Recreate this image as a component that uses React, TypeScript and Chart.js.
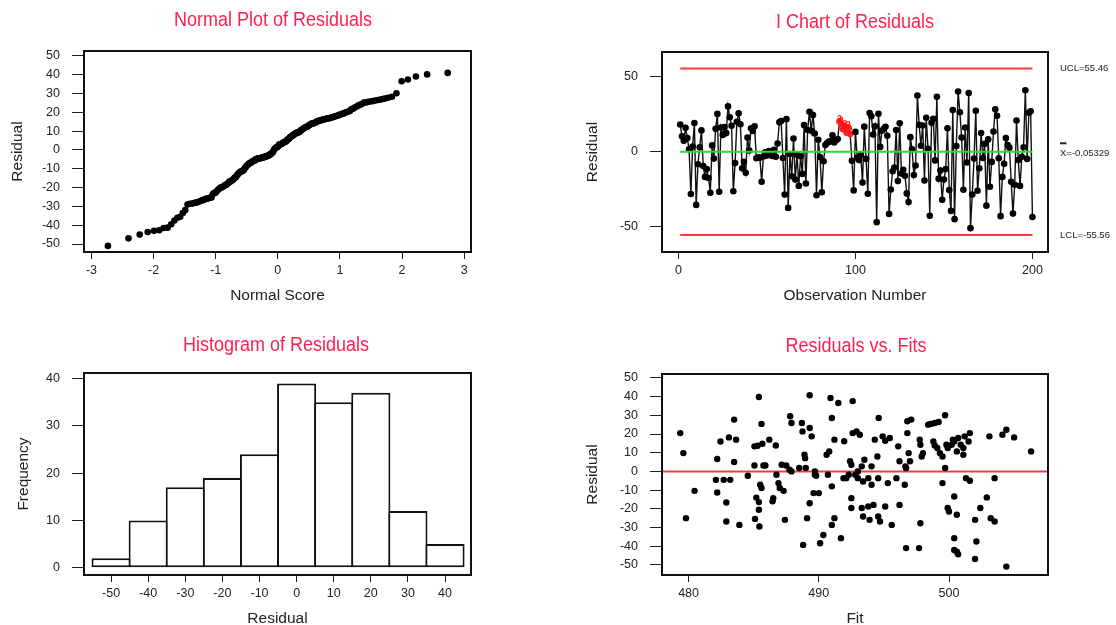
import React, { useEffect, useRef } from "react";
import { Chart, registerables } from "chart.js";
Chart.register(...registerables);

// ------------------------------------------------------------------ data
// Residuals in observation order
const residuals: number[] = [
  18.1, 10.3, 7.3, 15.9, 9.1, 1.6, -28.2, 3.4, 19.1, -35.5,
  -8.4, 3.0, 14.2, -9.6, -16.8, -11.6, -17.6, -27.4, 4.2, -4.6,
  15.3, 25.2, -26.7, 16.1, 11.2, 16.5, 12.4, 30.2, 23.0, 17.3,
  -26.4, -7.6, 19.9, 25.6, 18.3, -11.0, -6.8, -14.0, 9.4, 0.8,
  15.6, 13.8, 16.9, -4.4, -3.8, -4.0, -20.0, -3.2, -0.4, -2.6,
  0.4, -1.2, -2.8, 1.2, -3.4, 5.5, 19.6, 20.5, -4.2, -28.6,
  21.7, -37.5, -1.6, -16.4, 8.8, -18.6, -2.0, -22.8, -3.0, -14.8,
  17.7, -21.2, 14.5, 26.6, 14.0, 24.4, 12.1, -29.0, 7.9, -3.6,
  -27.0, -6.4, 4.5, 5.8, 6.7, 7.0, 10.9, 6.1, 7.6, 8.5,
  20.2, 18.5, 15.0, 17.1, 12.7, 16.3, 11.8, -6.0, -25.8, 13.2,
  -4.0, -5.6, -2.2, -20.6, 16.7, -4.8, -28.0, 25.8, 23.6, 11.5,
  16.9, -47.0, 25.3, 3.2, 14.0, 15.3, 16.6, 10.6, -41.5, -25.2,
  -13.0, -10.6, 14.4, -19.6, 18.9, -14.6, -12.0, -16.0, -27.8, -33.5,
  9.7, 1.6, -15.6, -9.2, 37.5, 17.9, 4.0, 17.5, -19.2, 22.6,
  2.0, -42.7, 19.3, 22.0, -5.8, 36.6, -18.0, -12.6, -32.0, -18.6,
  -11.6, 15.6, -25.6, -39.5, 27.8, -45.0, 3.8, 40.2, 26.3, 9.4,
  -25.4, 16.1, -7.2, 39.1, -51.0, -28.6, -4.6, 27.3, -26.0, -11.0,
  12.4, -4.2, 5.2, -36.0, 8.2, -23.4, -6.8, 13.4, 28.3, 24.0,
  -4.4, -43.0, -16.8, -8.0, 9.1, 4.4, 2.7, -20.0, -41.3, -22.0,
  20.8, -5.6, -22.8, -3.4, 3.0, 41.0, -4.8, 26.0, 26.9, -43.6,
];

// I chart control limits and labels
const UCL = 55.46;
const CENTER = -0.05329;
const LCL = -55.56;
const controlLabels = ["UCL=55.46", "X=-0.05329", "LCL=-55.56"];
// observations failing test 2 (9 points in a row on one side)
const flaggedObs = [91, 92, 93, 94, 95, 96, 97];
const flagText = "2";

// Histogram bins
const histCenters = [-50, -40, -30, -20, -10, 0, 10, 20, 30, 40];
const histCounts = [2, 10, 17, 19, 24, 39, 35, 37, 12, 5];

// Residuals vs fits: [fit, residual]
const fitVsResidual: [number, number][] = [
  [479.36, 20.5], [479.6, 9.8], [479.8, -25], [480.46, -10.4], [482.2, 6.6], [482.1, -4.5],
  [482.2, -11.3], [482.45, 16], [482.7, -4.5], [482.9, -26.8], [482.9, -16.6], [483.1, 18.2],
  [483.2, -4.5], [483.5, 27.7], [483.5, 5], [483.65, 17], [483.9, -28.6], [484.55, -2.3],
  [485.06, 13.4], [485.06, 3.2], [485.1, -25.4], [485.2, -14], [485.3, 13.75], [485.4, 39.8],
  [485.4, -16.4], [485.4, -20.5], [485.44, -29.5], [485.5, -7.1], [485.6, -8.9], [485.6, 25.4],
  [485.67, 14.8], [485.75, 3.2], [485.9, 3.2], [486.2, 17], [486.45, -16], [486.5, -14.3],
  [486.7, 13.9], [486.75, -1.8], [486.9, -6.25], [487.0, -8.9], [487.3, -10.4], [487.4, -25.9],
  [487.15, 3.6], [487.5, 3.2], [487.8, 29.5], [487.9, 25.9], [487.75, 0.9], [487.9, 0],
  [488.5, 1.8], [488.7, 25.9], [488.75, 21.4], [488.8, -39.3], [488.9, 8.9], [488.95, 7.1],
  [489.0, 1.8], [489.1, -25], [489.3, 23.2], [489.3, 40.7], [489.45, 18.75], [489.3, -17],
  [489.6, -11.6], [489.7, -1.8], [489.8, -2.3], [489.7, 0], [490.0, -11.6], [490.1, -38.4],
  [490.35, -34], [490.6, 8.9], [490.7, -1.8], [490.8, 10.7], [490.9, 39.3], [491.0, 28.6],
  [491.0, -8], [491.0, -28.6], [491.2, -25], [491.2, 17], [491.5, 36.6], [491.7, -35.7],
  [491.95, 16.1], [491.9, -3.6], [492.1, -3.6], [492.3, -1.8], [492.5, 3.6], [492.5, -14.3],
  [492.5, -19.6], [492.6, 20.5], [492.4, 5.4], [492.8, -1.8], [492.9, 21.4], [493.0, 0],
  [492.6, 37.6],
  [493.15, 19.6], [493.3, 2.7], [493.0, -3.6], [493.4, -5.4], [493.5, 6.25], [493.8, -3.6],
  [494.05, 2.7], [494.05, -7.1], [494.5, 8], [494.56, -3.6], [494.6, 28.6], [494.3, 17],
  [494.9, 18.75], [495.1, 16.4], [495.3, -6.25], [495.45, 17.9], [495.96, -3.6], [496.6, -7.1],
  [493.3, -19.6], [493.4, -24.1], [493.8, -18.75], [493.9, -25.9], [494.2, -17.9], [494.56, -24.1],
  [494.7, -26.8], [495.1, -18.75], [495.6, -28.6], [496.2, -17.9], [496.7, -41], [497.7, -41],
  [497.8, -27.7], [496.1, 13.4], [496.8, 20.5], [496.8, 26.8], [497.1, 27.7], [496.9, 9.8],
  [497.0, 5.4], [496.2, 5.4], [496.65, 2.7], [496.7, 1.8], [497.75, 17], [497.8, 14.3],
  [497.9, 8], [498.0, 9.8], [498.4, 25], [498.6, 25.4], [498.9, 25.9], [499.2, 26.4],
  [499.7, 30], [498.8, 16], [498.9, 13.9], [499.1, 12.5], [499.3, 9.8], [499.5, 8],
  [499.5, -6.25], [499.7, 1.8], [499.8, 14.3], [499.9, 12.5], [500.2, 14.3], [500.3, 17],
  [500.4, 16], [500.6, 10.7], [500.7, 17.9], [500.9, 14.3], [501.1, 12.5], [501.2, 18.75],
  [501.5, 16], [501.6, 20.5], [501.1, 8.9], [500.4, -13.4], [499.9, -19.6], [500.0, -21.4],
  [500.6, -23.2], [500.4, -35.7], [500.4, -42], [500.6, -42.9], [500.7, -44.3], [501.3, -3.6],
  [501.6, -5], [502.0, -25.9], [502.1, -37.5], [502.0, -46.8], [502.4, -19.6], [502.9, -13.9],
  [503.1, 18.75], [503.2, -25], [503.5, -26.8], [503.5, -3.6], [504.1, 19.6], [504.4, 22.3],
  [504.4, -50.9], [505.0, 18.2], [506.3, 10.7],
];

const titles = ["Normal Plot of Residuals", "I Chart of Residuals", "Histogram of Residuals", "Residuals vs. Fits"];
const axisTitles = {
  normalX: "Normal Score", ichartX: "Observation Number", histX: "Residual", fitsX: "Fit",
  residual: "Residual", frequency: "Frequency",
};

// ------------------------------------------------------------------ helpers
function fontAvailable(name: string): boolean {
  const ctx = document.createElement("canvas").getContext("2d");
  if (!ctx) return false;
  const s = "abcdefghijklmnopqrstuvwxyzABCDEFGHIJKLMNOPQRSTUVWXYZ0123456789";
  ctx.font = "40px monospace";
  const a = ctx.measureText(s).width;
  ctx.font = `40px "${name}", monospace`;
  const b = ctx.measureText(s).width;
  return Math.abs(a - b) > 1;
}
const NARROW = fontAvailable("Liberation Sans Narrow");
const F = NARROW
  ? { family: '"Liberation Sans Narrow", "Liberation Sans", Arial, sans-serif', title: 22, titleStretch: 1, axis: 19, tick: 15.5, ctl: 11.5, flag: 11 }
  : { family: '"Liberation Sans", Arial, sans-serif', title: 18, titleStretch: 1.15, axis: 15.5, tick: 12.5, ctl: 9.5, flag: 9 };

const TITLE_COLOR = "#ff1f4f";
const TEXT_COLOR = "#222";
const AXIS_COLOR = "#222";

// inverse standard normal CDF (Acklam)
function invNorm(p: number): number {
  const a = [-3.969683028665376e1, 2.209460984245205e2, -2.759285104469687e2, 1.38357751867269e2, -3.066479806614716e1, 2.506628277459239];
  const b = [-5.447609879822406e1, 1.615858368580409e2, -1.556989798598866e2, 6.680131188771972e1, -1.328068155288572e1];
  const c = [-7.784894002430293e-3, -3.223964580411365e-1, -2.400758277161838, -2.549732539343734, 4.374664141464968, 2.938163982698783];
  const d = [7.784695709041462e-3, 3.224671290700398e-1, 2.445134137142996, 3.754408661907416];
  const pl = 0.02425;
  if (p < pl) {
    const q = Math.sqrt(-2 * Math.log(p));
    return (((((c[0] * q + c[1]) * q + c[2]) * q + c[3]) * q + c[4]) * q + c[5]) / ((((d[0] * q + d[1]) * q + d[2]) * q + d[3]) * q + 1);
  }
  if (p <= 1 - pl) {
    const q = p - 0.5, r = q * q;
    return ((((((a[0] * r + a[1]) * r + a[2]) * r + a[3]) * r + a[4]) * r + a[5]) * q) / (((((b[0] * r + b[1]) * r + b[2]) * r + b[3]) * r + b[4]) * r + 1);
  }
  const q = Math.sqrt(-2 * Math.log(1 - p));
  return -(((((c[0] * q + c[1]) * q + c[2]) * q + c[3]) * q + c[4]) * q + c[5]) / ((((d[0] * q + d[1]) * q + d[2]) * q + d[3]) * q + 1);
}

type Panel = {
  left: number; top: number; w: number; h: number;
  area: { l: number; t: number; r: number; b: number };
  title: [number, number]; xTitleFromBottom: number; yTitleFromLeft: number;
};

const P_NORMAL: Panel = { left: 0, top: 0, w: 558, h: 312, area: { l: 84, t: 51, r: 471, b: 252 }, title: [273, 20], xTitleFromBottom: 16, yTitleFromLeft: 17.5 };
const P_ICHART: Panel = { left: 558, top: 0, w: 558, h: 312, area: { l: 104, t: 52, r: 490, b: 252 }, title: [297, 22], xTitleFromBottom: 16, yTitleFromLeft: 35 };
const P_HIST: Panel = { left: 0, top: 312, w: 558, h: 330, area: { l: 84, t: 61, r: 471, b: 263 }, title: [276, 33], xTitleFromBottom: 23.5, yTitleFromLeft: 24 };
const P_FITS: Panel = { left: 558, top: 312, w: 558, h: 330, area: { l: 104, t: 62, r: 490, b: 263 }, title: [298, 34], xTitleFromBottom: 23.5, yTitleFromLeft: 35 };

function xScale(p: Panel, min: number, max: number, step: number, title: string) {
  return {
    type: "linear", position: "bottom", min, max, offset: false,
    afterFit: (s: any) => { s.height = p.h - p.area.b; },
    ticks: { stepSize: step, includeBounds: false, autoSkip: false, maxRotation: 0, minRotation: 0, color: TEXT_COLOR, padding: 4, font: { family: F.family, size: F.tick } },
    grid: { display: true, drawOnChartArea: false, drawTicks: true, tickLength: 7, color: AXIS_COLOR, lineWidth: 1, offset: false },
    border: { display: false },
    title: { display: true, text: title, color: TEXT_COLOR, font: { family: F.family, size: F.axis }, padding: { top: 0, bottom: p.xTitleFromBottom - F.axis * 0.6 } },
  };
}
function yScale(p: Panel, min: number, max: number, step: number, title: string) {
  return {
    type: "linear", position: "left", min, max,
    afterFit: (s: any) => { s.width = p.area.l; },
    ticks: { stepSize: step, includeBounds: false, autoSkip: false, color: TEXT_COLOR, padding: 12, font: { family: F.family, size: F.tick } },
    grid: { display: true, drawOnChartArea: false, drawTicks: true, tickLength: 12, color: AXIS_COLOR, lineWidth: 1 },
    border: { display: false },
    title: { display: true, text: title, color: TEXT_COLOR, font: { family: F.family, size: F.axis }, padding: { top: p.yTitleFromLeft - F.axis * 0.6, bottom: 0 } },
  };
}
function baseOptions(p: Panel, xs: any, ys: any) {
  return {
    responsive: false, maintainAspectRatio: false, animation: false, events: [],
    layout: { padding: { left: 0, top: p.area.t, right: p.w - p.area.r, bottom: 0 } },
    plugins: { legend: { display: false }, tooltip: { enabled: false }, title: { display: false } },
    scales: { x: xs, y: ys },
  };
}
function framePlugin(p: Panel, title: string, extra?: (chart: any) => void) {
  return {
    id: "frameAndTitle",
    afterDatasetsDraw(chart: any) {
      const { ctx, chartArea: a } = chart;
      ctx.save();
      ctx.strokeStyle = "#111";
      ctx.lineWidth = 2;
      ctx.strokeRect(a.left, a.top, a.right - a.left, a.bottom - a.top);
      ctx.restore();
    },
    afterDraw(chart: any) {
      const { ctx } = chart;
      ctx.save();
      ctx.font = `${F.title}px ${F.family}`;
      ctx.fillStyle = TITLE_COLOR;
      ctx.textAlign = "center";
      ctx.textBaseline = "middle";
      ctx.translate(p.title[0], p.title[1]);
      ctx.scale(1, F.titleStretch);
      ctx.fillText(title, 0, 0);
      ctx.restore();
      if (extra) extra(chart);
    },
  };
}

// ------------------------------------------------------------------ chart configs
function normalConfig() {
  const p = P_NORMAL;
  const sorted = [...residuals].sort((a, b) => a - b);
  const n = sorted.length;
  const pts = sorted.map((v, i) => ({ x: invNorm((i + 1 - 0.375) / (n + 0.25)), y: v }));
  return {
    type: "scatter",
    data: { datasets: [{ data: pts, pointRadius: 3.3, pointBorderWidth: 0, pointBackgroundColor: "#000" }] },
    options: baseOptions(p, xScale(p, -3.12, 3.11, 1, axisTitles.normalX), yScale(p, -54.25, 52.65, 10, axisTitles.residual)),
    plugins: [framePlugin(p, titles[0])],
  };
}

function ichartConfig() {
  const p = P_ICHART;
  const n = residuals.length;
  const pts = residuals.map((v, i) => ({ x: i + 1, y: v }));
  const colors = residuals.map((_, i) => (flaggedObs.includes(i + 1) ? "#ff2020" : "#000"));
  const hline = (v: number) => [{ x: 1, y: v }, { x: n, y: v }];
  const extra = (chart: any) => {
    const { ctx, chartArea: a, scales } = chart;
    const y = scales.y, x = scales.x;
    ctx.save();
    ctx.font = `${F.ctl}px ${F.family}`;
    ctx.fillStyle = TEXT_COLOR;
    ctx.textAlign = "left";
    ctx.textBaseline = "middle";
    const x0 = a.right + 12;
    ctx.fillText(controlLabels[0], x0, y.getPixelForValue(UCL));
    const yc = y.getPixelForValue(CENTER) + 1.5;
    ctx.fillText(controlLabels[1], x0, yc);
    ctx.fillRect(x0, yc - 11, ctx.measureText("X").width, 2);
    ctx.fillText(controlLabels[2], x0, y.getPixelForValue(LCL));
    ctx.font = `bold ${F.flag}px ${F.family}`;
    ctx.fillStyle = "#ff1010";
    ctx.textAlign = "center";
    flaggedObs.forEach((o) => {
      ctx.fillText(flagText, x.getPixelForValue(o), y.getPixelForValue(residuals[o - 1]) - 3);
    });
    ctx.restore();
  };
  return {
    type: "scatter",
    data: {
      datasets: [
        { data: hline(CENTER), showLine: true, borderColor: "#22e022", borderWidth: 2, pointRadius: 0 },
        { data: hline(UCL), showLine: true, borderColor: "#ff3a3a", borderWidth: 2, pointRadius: 0 },
        { data: hline(LCL), showLine: true, borderColor: "#ff3a3a", borderWidth: 2, pointRadius: 0 },
        { data: pts, showLine: true, borderColor: "#111", borderWidth: 1.4, pointRadius: 3.3, pointBorderWidth: 0, pointBackgroundColor: colors },
      ],
    },
    options: baseOptions(p, xScale(p, -9.3, 208.8, 100, axisTitles.ichartX), yScale(p, -66.9, 66.5, 50, axisTitles.residual)),
    plugins: [framePlugin(p, titles[1], extra)],
  };
}

function histConfig() {
  const p = P_HIST;
  const data = histCenters.map((c, i) => ({ x: c, y: histCounts[i] }));
  return {
    type: "bar",
    data: {
      datasets: [{
        data, backgroundColor: "#fff", borderColor: "#111",
        borderWidth: 2, borderSkipped: false,
        // slight overlap so neighbouring bars share one 2px edge
        barPercentage: 1.054, categoryPercentage: 1, inflateAmount: 0,
      }],
    },
    options: baseOptions(p, xScale(p, -57.3, 47.0, 10, axisTitles.histX), yScale(p, -1.55, 41.2, 10, axisTitles.frequency)),
    plugins: [framePlugin(p, titles[2])],
  };
}

const FIT_MIN = 477.96;
const FIT_MAX = 507.6;
function fitsConfig() {
  const p = P_FITS;
  const pts = fitVsResidual.map(([f, r]) => ({ x: f, y: r }));
  return {
    type: "scatter",
    data: {
      datasets: [
        { data: pts, pointRadius: 3.2, pointBorderWidth: 0, pointBackgroundColor: "#000" },
        { data: [{ x: FIT_MIN, y: 0 }, { x: FIT_MAX, y: 0 }], showLine: true, borderColor: "#ff3a3a", borderWidth: 2, pointRadius: 0 },
      ],
    },
    options: baseOptions(p, xScale(p, FIT_MIN, FIT_MAX, 10, axisTitles.fitsX), yScale(p, -55.4, 52.1, 10, axisTitles.residual)),
    plugins: [framePlugin(p, titles[3])],
  };
}

// ------------------------------------------------------------------ components
function ChartPanel({ panel, build }: { panel: Panel; build: () => any }) {
  const ref = useRef<HTMLCanvasElement>(null);
  useEffect(() => {
    if (!ref.current) return;
    const chart = new Chart(ref.current, build());
    return () => chart.destroy();
  }, []);
  return (
    <canvas
      ref={ref}
      width={panel.w}
      height={panel.h}
      style={{ position: "absolute", left: panel.left, top: panel.top, width: panel.w, height: panel.h }}
    />
  );
}

export default function App() {
  return (
    <div style={{ position: "fixed", left: 0, top: 0, width: 1116, height: 625, overflow: "hidden", background: "#fff" }}>
      <ChartPanel panel={P_NORMAL} build={normalConfig} />
      <ChartPanel panel={P_ICHART} build={ichartConfig} />
      <ChartPanel panel={P_HIST} build={histConfig} />
      <ChartPanel panel={P_FITS} build={fitsConfig} />
    </div>
  );
}
